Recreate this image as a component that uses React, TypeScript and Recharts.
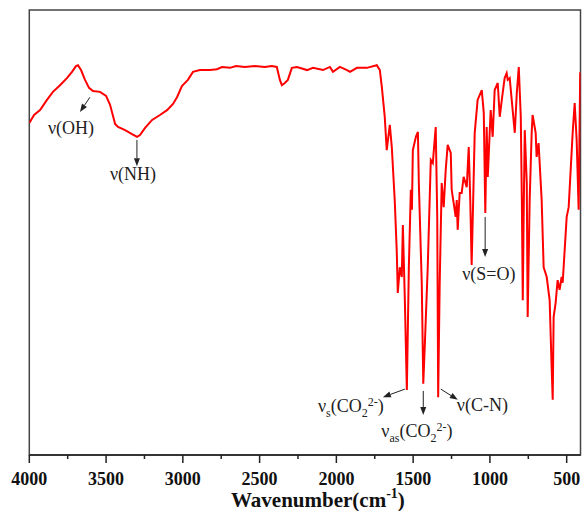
import { LineChart, Line, XAxis, YAxis, ReferenceArea, ReferenceLine, Label } from 'recharts';

// wavenumber (cm-1) and transmittance (%)
const wavenumbers = [
  4000, 3969, 3930, 3885, 3846, 3800, 3755, 3722, 3696, 3683, 3663, 3637, 3611, 3585, 3539, 3500,
  3474, 3441, 3422, 3376, 3331, 3298, 3279, 3246, 3200, 3149, 3103, 3064, 3038, 3006, 2967, 2934,
  2889, 2824, 2778, 2745, 2693, 2654, 2596, 2531, 2466, 2421, 2388, 2368, 2355, 2336, 2316, 2290,
  2256, 2191, 2152, 2087, 2042, 2022, 1977, 1931, 1911, 1866, 1801, 1737, 1717, 1704, 1685, 1672,
  1652, 1639, 1620, 1607, 1600, 1587, 1574, 1567, 1554, 1541, 1528, 1515, 1508, 1502, 1482, 1469,
  1463, 1444, 1434, 1424, 1405, 1385, 1372, 1353, 1343, 1337, 1327, 1314, 1301, 1288, 1275, 1255,
  1249, 1236, 1223, 1216, 1210, 1197, 1184, 1171, 1151, 1138, 1128, 1119, 1109, 1099, 1080, 1053,
  1040, 1030, 1021, 1014, 995, 982, 969, 949, 936, 917, 904, 891, 884, 871, 858, 838,
  825, 812, 799, 792, 786, 779, 773, 760, 754, 741, 728, 722, 702, 696, 683, 663,
  650, 630, 611, 598, 591, 585, 572, 559, 546, 533, 526, 500, 487, 461, 448, 435,
  422, 412,
];
const transmittance = [
  74.6, 76.4, 77.5, 79.8, 81.6, 83.1, 84.7, 86.1, 87.4, 87.6, 86.5, 84.3, 82.5, 81.8, 81.6, 80.7,
  78.7, 74.4, 73.7, 73.0, 72.1, 71.5, 71.9, 73.5, 75.3, 76.4, 77.5, 78.9, 80.4, 82.9, 84.3, 86.1,
  86.5, 86.5, 86.7, 87.2, 87.0, 87.4, 87.2, 87.4, 87.2, 87.4, 87.2, 84.3, 83.1, 83.6, 84.3, 87.0,
  87.2, 86.5, 87.0, 86.5, 87.2, 86.1, 87.2, 86.5, 86.1, 87.0, 87.0, 87.6, 86.5, 82.7, 76.0, 68.5,
  74.2, 69.2, 57.3, 46.1, 36.4, 42.2, 40.0, 51.7, 34.8, 14.6, 42.2, 59.6, 55.1, 68.5, 71.5, 72.6,
  61.1, 38.7, 16.0, 24.7, 42.2, 66.3, 65.6, 73.7, 53.5, 13.0, 38.7, 61.1, 55.7, 64.0, 69.7, 67.9,
  59.6, 56.6, 53.5, 57.3, 50.6, 58.9, 58.9, 62.5, 60.2, 69.2, 57.3, 42.7, 57.3, 72.4, 79.8, 82.0,
  76.9, 54.4, 73.7, 62.5, 77.5, 71.5, 82.0, 83.6, 76.0, 81.3, 84.7, 85.8, 84.3, 84.7, 79.8, 72.4,
  81.3, 87.2, 76.0, 57.3, 34.8, 57.3, 73.0, 61.1, 31.0, 57.3, 72.4, 76.4, 72.4, 67.0, 70.1, 57.3,
  42.2, 40.0, 34.8, 19.8, 12.4, 31.0, 34.2, 39.3, 37.1, 40.0, 38.7, 53.5, 55.7, 72.4, 79.1, 70.8,
  55.1, 86.0,
];

const axisTicks = [4000, 3750, 3500, 3250, 3000, 2750, 2500, 2250, 2000, 1750, 1500, 1250, 1000, 750, 500];

// band assignments: arrow tail and head in (wavenumber, transmittance)
const bandNames = ['OH', 'NH', 'S=O', 'CO2-s', 'CO2-as', 'C-N'];
const arrowTail = [[3605, 80.4], [3299, 70.8], [1031, 53.5], [1554, 14.8], [1434, 14.4], [1320, 14.8]];
const arrowHead = [[3670, 77.1], [3299, 64.9], [1031, 44.5], [1697, 13.0], [1434, 9.0], [1209, 12.4]];

const data = wavenumbers.map((w, i) => ({ w, t: transmittance[i] }));

const SERIF = "'Liberation Serif', 'Times New Roman', serif";
const INK = '#222';
// label placement relative to arrow head, px
const labelShift = [[-32, 22], [-27, 14], [-23, 23], [-65, 15], [-42, 22], [-1, 11]];

function bandText(name: string) {
  const sm = 12;
  if (name === 'CO2-s' || name === 'CO2-as') {
    return (
      <>
        ν<tspan fontSize={sm} dy={5}>{name === 'CO2-s' ? 's' : 'as'}</tspan>
        <tspan dy={-5}>(CO</tspan>
        <tspan fontSize={sm} dy={5}>2</tspan>
        <tspan fontSize={sm} dy={-11}>2-</tspan>
        <tspan dy={6}>)</tspan>
      </>
    );
  }
  return `ν(${name})`;
}

function arrowShape(i: number) {
  return (props: any) => {
    const { x1, y1, x2, y2 } = props;
    const dx = x2 - x1;
    const dy = y2 - y1;
    const len = Math.sqrt(dx * dx + dy * dy) || 1;
    const ux = dx / len;
    const uy = dy / len;
    const hl = 8;
    const hw = 3;
    const bx = x2 - ux * hl;
    const by = y2 - uy * hl;
    return (
      <g>
        <line x1={x1} y1={y1} x2={bx} y2={by} stroke={INK} strokeWidth={1} />
        <polygon
          points={`${x2},${y2} ${bx - uy * hw},${by + ux * hw} ${bx + uy * hw},${by - ux * hw}`}
          fill={INK}
        />
        <text
          x={x2 + labelShift[i][0]}
          y={y2 + labelShift[i][1]}
          fontFamily={SERIF}
          fontSize={18}
          fill={INK}
        >
          {bandText(bandNames[i])}
        </text>
      </g>
    );
  };
}

function WaveTick({ x, y, payload }: any) {
  const major = payload.value % 500 === 0;
  return (
    <g>
      <line x1={x} y1={y} x2={x} y2={y + (major ? 8 : 4)} stroke={INK} strokeWidth={1.5} />
      {major && (
        <text x={x} y={y + 30} textAnchor="middle" fontFamily={SERIF} fontWeight="bold" fontSize={18} fill="#111">
          {payload.value}
        </text>
      )}
    </g>
  );
}

function AxisTitle({ viewBox }: any) {
  const cx = viewBox.x + viewBox.width / 2 + 13;
  return (
    <text x={cx} y={viewBox.y + 52} textAnchor="middle" fontFamily={SERIF} fontWeight="bold" fontSize={21} fill="#111">
      Wavenumber(cm<tspan fontSize={14} dy={-9}>-1</tspan>
      <tspan dy={9}>)</tspan>
    </text>
  );
}

export default function App() {
  return (
    <div style={{ position: 'absolute', left: 0, top: 0, width: 582, height: 511, background: '#fff' }}>
      <LineChart width={582} height={511} data={data} margin={{ top: 10, right: 1.5, bottom: 0, left: 29.3 }}>
        <XAxis
          dataKey="w"
          type="number"
          domain={[410, 4000]}
          reversed
          allowDataOverflow
          ticks={axisTicks}
          interval={0}
          tickSize={0}
          tickMargin={0}
          tick={<WaveTick />}
          height={56}
          axisLine={{ stroke: INK, strokeWidth: 1.5 }}
        >
          <Label content={<AxisTitle />} />
        </XAxis>
        <YAxis type="number" domain={[0, 100]} hide width={0} allowDataOverflow />
        <ReferenceArea x1={410} x2={4000} y1={0} y2={100} fill="none" stroke="#444" strokeWidth={1.5} />
        <Line
          type="linear"
          dataKey="t"
          stroke="#ff0000"
          strokeWidth={2}
          dot={false}
          isAnimationActive={false}
        />
        {bandNames.map((name, i) => (
          <ReferenceLine
            key={name}
            segment={[
              { x: arrowTail[i][0], y: arrowTail[i][1] },
              { x: arrowHead[i][0], y: arrowHead[i][1] },
            ]}
            shape={arrowShape(i)}
          />
        ))}
      </LineChart>
    </div>
  );
}
